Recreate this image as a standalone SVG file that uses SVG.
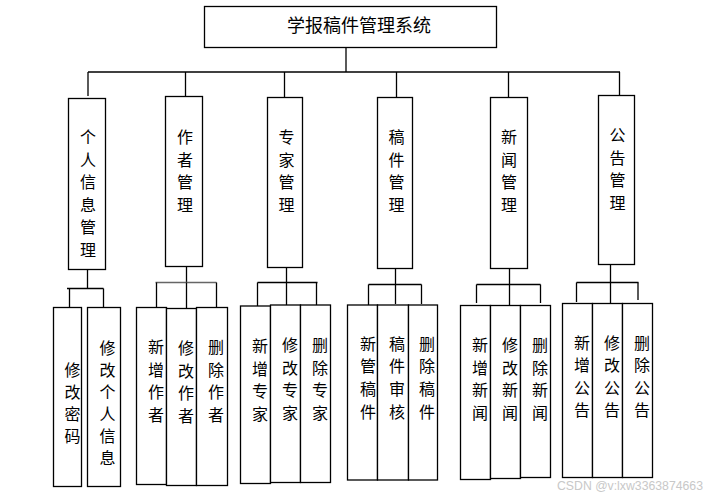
<svg xmlns="http://www.w3.org/2000/svg" width="720" height="499" viewBox="0 0 720 499">
<style>
rect{fill:#fff;stroke:#000;stroke-width:1.3}
.c line{stroke:#000;stroke-width:1.3}
text{font-family:"Noto Sans CJK SC","Noto Sans",sans-serif;fill:#000;text-anchor:middle}
.v{font-size:16px}
.t{font-size:18px}
.wm{font-family:"Liberation Sans","DejaVu Sans",sans-serif;font-size:12px;fill:#c8c8c8;text-anchor:start}
</style>
<rect width="720" height="499" style="fill:#fff;stroke:none"/>
<g id="connectors" class="c">
<line x1="346" y1="47" x2="346" y2="72"/>
<line x1="88" y1="72" x2="620" y2="72"/>
<line x1="88" y1="72" x2="88" y2="96"/>
<line x1="185.5" y1="72" x2="185.5" y2="97"/>
<line x1="284.5" y1="72" x2="284.5" y2="97"/>
<line x1="396.5" y1="72" x2="396.5" y2="97"/>
<line x1="508.5" y1="72" x2="508.5" y2="97"/>
<line x1="619.5" y1="72" x2="619.5" y2="95"/>
<!-- group 1 -->
<line x1="87.5" y1="269" x2="87.5" y2="288.5"/>
<line x1="67" y1="288.5" x2="103.5" y2="288.5"/>
<line x1="69.5" y1="288.5" x2="69.5" y2="307"/>
<line x1="103.5" y1="288.5" x2="103.5" y2="307"/>
<!-- group 2 -->
<line x1="186.5" y1="266" x2="186.5" y2="282.5"/>
<line x1="155.5" y1="282.5" x2="216.5" y2="282.5" style="stroke:#666"/>
<line x1="156.5" y1="282.5" x2="156.5" y2="307"/>
<line x1="186.5" y1="282.5" x2="186.5" y2="308"/>
<line x1="216.5" y1="282.5" x2="216.5" y2="307"/>
<!-- group 3 -->
<line x1="286.5" y1="267" x2="286.5" y2="282.5"/>
<line x1="257.5" y1="282.5" x2="317.5" y2="282.5"/>
<line x1="257.5" y1="282.5" x2="257.5" y2="306"/>
<line x1="286.5" y1="282.5" x2="286.5" y2="305"/>
<line x1="316.5" y1="282.5" x2="316.5" y2="305"/>
<!-- group 4 -->
<line x1="395.5" y1="268" x2="395.5" y2="284.5"/>
<line x1="368.5" y1="284.5" x2="421.5" y2="284.5"/>
<line x1="368.5" y1="284.5" x2="368.5" y2="305"/>
<line x1="395.5" y1="284.5" x2="395.5" y2="304"/>
<line x1="421.5" y1="284.5" x2="421.5" y2="304"/>
<!-- group 5 -->
<line x1="509.5" y1="268" x2="509.5" y2="284.5"/>
<line x1="476.5" y1="284.5" x2="540.5" y2="284.5"/>
<line x1="476.5" y1="284.5" x2="476.5" y2="303"/>
<line x1="509.5" y1="284.5" x2="509.5" y2="305"/>
<line x1="540.5" y1="284.5" x2="540.5" y2="303"/>
<!-- group 6 -->
<line x1="610.5" y1="264" x2="610.5" y2="282.5"/>
<line x1="576.5" y1="282.5" x2="638.5" y2="282.5"/>
<line x1="576.5" y1="282.5" x2="576.5" y2="302"/>
<line x1="610.5" y1="282.5" x2="610.5" y2="303"/>
<line x1="638" y1="282.5" x2="638" y2="300"/>
</g>
<g id="root"><rect x="204.5" y="6.5" width="292" height="41"/><text class="t" x="359" y="31.5">学报稿件管理系统</text></g>
<g id="n1"><rect x="68.5" y="98.5" width="37" height="171"/><text class="v" x="88"><tspan x="88" y="143">个</tspan><tspan x="88" dy="22.6">人</tspan><tspan x="88" dy="22.6">信</tspan><tspan x="88" dy="22.6">息</tspan><tspan x="88" dy="22.6">管</tspan><tspan x="88" dy="22.6">理</tspan></text></g>
<g id="n2"><rect x="165.5" y="96.5" width="37" height="170"/><text class="v" x="185"><tspan x="185" y="143">作</tspan><tspan x="185" dy="22.6">者</tspan><tspan x="185" dy="22.6">管</tspan><tspan x="185" dy="22.6">理</tspan></text></g>
<g id="n3"><rect x="267.5" y="97.5" width="35" height="170"/><text class="v" x="286.5"><tspan x="286.5" y="143">专</tspan><tspan x="286.5" dy="22.6">家</tspan><tspan x="286.5" dy="22.6">管</tspan><tspan x="286.5" dy="22.6">理</tspan></text></g>
<g id="n4"><rect x="377.5" y="97.5" width="35" height="171"/><text class="v" x="396.5"><tspan x="396.5" y="143">稿</tspan><tspan x="396.5" dy="22.6">件</tspan><tspan x="396.5" dy="22.6">管</tspan><tspan x="396.5" dy="22.6">理</tspan></text></g>
<g id="n5"><rect x="490.5" y="97.5" width="37" height="171"/><text class="v" x="509"><tspan x="509" y="143">新</tspan><tspan x="509" dy="22.6">闻</tspan><tspan x="509" dy="22.6">管</tspan><tspan x="509" dy="22.6">理</tspan></text></g>
<g id="n6"><rect x="598.5" y="95.5" width="36" height="169"/><text class="v" x="617.5"><tspan x="617.5" y="141">公</tspan><tspan x="617.5" dy="22.6">告</tspan><tspan x="617.5" dy="22.6">管</tspan><tspan x="617.5" dy="22.6">理</tspan></text></g>

<g id="n1a"><rect x="53.5" y="307.5" width="28" height="179"/><text class="v"><tspan x="72.5" y="376">修</tspan><tspan x="72.5" dy="22">改</tspan><tspan x="72.5" dy="22">密</tspan><tspan x="72.5" dy="22">码</tspan></text></g>
<g id="n1b"><rect x="87.5" y="307.5" width="33" height="179"/><text class="v"><tspan x="107.5" y="354">修</tspan><tspan x="107.5" dy="22">改</tspan><tspan x="107.5" dy="22">个</tspan><tspan x="107.5" dy="22">人</tspan><tspan x="107.5" dy="22">信</tspan><tspan x="107.5" dy="22">息</tspan></text></g>

<g id="n2a"><rect x="136.5" y="307.5" width="30" height="177"/><text class="v"><tspan x="156" y="353">新</tspan><tspan x="156" dy="22.5">增</tspan><tspan x="156" dy="22.5">作</tspan><tspan x="156" dy="22.5">者</tspan></text></g>
<g id="n2b"><rect x="166.5" y="308.5" width="30" height="177"/><text class="v"><tspan x="186" y="354">修</tspan><tspan x="186" dy="22.5">改</tspan><tspan x="186" dy="22.5">作</tspan><tspan x="186" dy="22.5">者</tspan></text></g>
<g id="n2c"><rect x="196.5" y="307.5" width="31" height="178"/><text class="v"><tspan x="216" y="353">删</tspan><tspan x="216" dy="22.5">除</tspan><tspan x="216" dy="22.5">作</tspan><tspan x="216" dy="22.5">者</tspan></text></g>

<g id="n3a"><rect x="240.5" y="306" width="30" height="177.5"/><text class="v"><tspan x="260" y="352">新</tspan><tspan x="260" dy="22.5">增</tspan><tspan x="260" dy="22.5">专</tspan><tspan x="260" dy="22.5">家</tspan></text></g>
<g id="n3b"><rect x="270.5" y="305" width="30" height="177.5"/><text class="v"><tspan x="290" y="351">修</tspan><tspan x="290" dy="22.5">改</tspan><tspan x="290" dy="22.5">专</tspan><tspan x="290" dy="22.5">家</tspan></text></g>
<g id="n3c"><rect x="300.5" y="305" width="30" height="177.5"/><text class="v"><tspan x="320" y="351">删</tspan><tspan x="320" dy="22.5">除</tspan><tspan x="320" dy="22.5">专</tspan><tspan x="320" dy="22.5">家</tspan></text></g>

<g id="n4a"><rect x="347.5" y="305" width="30" height="175"/><text class="v"><tspan x="368" y="349.5">新</tspan><tspan x="368" dy="22.7">管</tspan><tspan x="368" dy="22.7">稿</tspan><tspan x="368" dy="22.7">件</tspan></text></g>
<g id="n4b"><rect x="377.5" y="305" width="31" height="175"/><text class="v"><tspan x="397" y="349.5">稿</tspan><tspan x="397" dy="22.7">件</tspan><tspan x="397" dy="22.7">审</tspan><tspan x="397" dy="22.7">核</tspan></text></g>
<g id="n4c"><rect x="408.5" y="305" width="29" height="175"/><text class="v"><tspan x="427" y="349.5">删</tspan><tspan x="427" dy="22.7">除</tspan><tspan x="427" dy="22.7">稿</tspan><tspan x="427" dy="22.7">件</tspan></text></g>

<g id="n5a"><rect x="460.5" y="305.5" width="30" height="174"/><text class="v"><tspan x="480" y="351">新</tspan><tspan x="480" dy="22.5">增</tspan><tspan x="480" dy="22.5">新</tspan><tspan x="480" dy="22.5">闻</tspan></text></g>
<g id="n5b"><rect x="490.5" y="305.5" width="30" height="173"/><text class="v"><tspan x="510" y="351">修</tspan><tspan x="510" dy="22.5">改</tspan><tspan x="510" dy="22.5">新</tspan><tspan x="510" dy="22.5">闻</tspan></text></g>
<g id="n5c"><rect x="520.5" y="305.5" width="30" height="172"/><text class="v"><tspan x="540" y="351">删</tspan><tspan x="540" dy="22.5">除</tspan><tspan x="540" dy="22.5">新</tspan><tspan x="540" dy="22.5">闻</tspan></text></g>

<g id="n6a"><rect x="562.5" y="303.5" width="30" height="174"/><text class="v"><tspan x="582" y="348.5">新</tspan><tspan x="582" dy="22.5">增</tspan><tspan x="582" dy="22.5">公</tspan><tspan x="582" dy="22.5">告</tspan></text></g>
<g id="n6b"><rect x="592.5" y="303.5" width="30" height="174"/><text class="v"><tspan x="612" y="348.5">修</tspan><tspan x="612" dy="22.5">改</tspan><tspan x="612" dy="22.5">公</tspan><tspan x="612" dy="22.5">告</tspan></text></g>
<g id="n6c"><rect x="622.5" y="303.5" width="30" height="174"/><text class="v"><tspan x="642" y="348.5">删</tspan><tspan x="642" dy="22.5">除</tspan><tspan x="642" dy="22.5">公</tspan><tspan x="642" dy="22.5">告</tspan></text></g>

<text class="wm" x="557" y="490" textLength="146" lengthAdjust="spacingAndGlyphs">CSDN @v:lxw3363874663</text>
</svg>
